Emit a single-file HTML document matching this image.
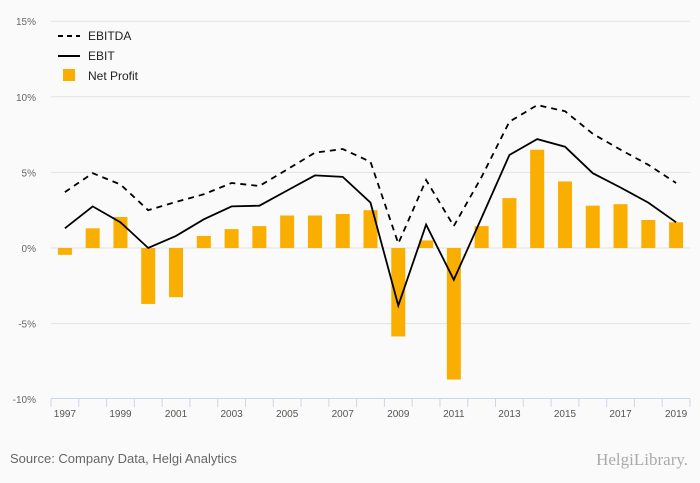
<!DOCTYPE html>
<html><head><meta charset="utf-8">
<style>
html,body{margin:0;padding:0;background:#fafafa;}
body{width:700px;height:483px;overflow:hidden;font-family:"Liberation Sans",sans-serif;}
</style></head>
<body>
<svg id="chart" width="700" height="483" xmlns="http://www.w3.org/2000/svg" style="display:block">
<rect width="700" height="483" fill="#fafafa"/>
<g id="grid"></g><g id="bars"></g><g id="lines"></g><g id="axis"></g>
<g font-size="12" fill="#222">
 <line x1="58" y1="36" x2="80" y2="36" stroke="#000" stroke-width="2" stroke-dasharray="5,4"/>
 <text x="88" y="40">EBITDA</text>
 <line x1="58" y1="56" x2="80" y2="56" stroke="#000" stroke-width="2"/>
 <text x="88" y="60">EBIT</text>
 <rect x="63" y="69" width="12" height="12" fill="#f9ae00"/>
 <text x="88" y="80">Net Profit</text>
</g>
<text x="10" y="463" font-size="13" fill="#666">Source: Company Data, Helgi Analytics</text>
<text x="688" y="465" font-size="17" fill="#aaa" text-anchor="end" font-family="Liberation Serif,serif">HelgiLibrary.</text>
</svg>
<script>
const years=[1997,1998,1999,2000,2001,2002,2003,2004,2005,2006,2007,2008,2009,2010,2011,2012,2013,2014,2015,2016,2017,2018,2019];
const netProfit=[-0.45,1.3,2.05,-3.7,-3.25,0.8,1.25,1.45,2.15,2.15,2.25,2.5,-5.85,0.5,-8.7,1.45,3.3,6.5,4.4,2.8,2.9,1.85,1.7];
const ebit=[1.3,2.75,1.7,0,0.8,1.9,2.75,2.8,3.8,4.8,4.7,3.0,-3.8,1.55,-2.1,2.0,6.15,7.2,6.7,4.95,4.0,3.0,1.7];
const ebitda=[3.7,4.95,4.2,2.5,3.05,3.55,4.3,4.1,5.2,6.3,6.55,5.7,0.3,4.5,1.45,4.7,8.35,9.45,9.05,7.55,6.5,5.5,4.3];
const yTicks=[15,10,5,0,-5,-10];
const NS="http://www.w3.org/2000/svg";
const x0=51,x1=690,step=(x1-x0)/years.length;
const xc=i=>x0+step*(i+0.5);
const y=v=>248-v*15.12;
function mk(tag,attrs,parent,txt){const e=document.createElementNS(NS,tag);for(const k in attrs)e.setAttribute(k,attrs[k]);if(txt!==undefined)e.textContent=txt;parent.appendChild(e);return e;}
const grid=document.getElementById('grid'),bars=document.getElementById('bars'),lines=document.getElementById('lines'),axis=document.getElementById('axis');
yTicks.forEach(t=>{
 if(t!==-10){const l=mk('line',{x1:x0,x2:x1,y1:y(t),y2:y(t),stroke:'#e2e2e2','stroke-width':1},grid);
 
 }
 const tx=mk('text',{x:36,y:y(t)+4,'font-size':10,fill:'#666','text-anchor':'end'},axis,t+'%');
 
 
});
netProfit.forEach((v,i)=>{
 const r=mk('rect',{x:xc(i)-7,y:Math.min(y(v),y(0)),width:14,height:Math.abs(y(v)-y(0)),fill:'#f9ae00'},bars);
 
 
});
const pts=a=>a.map((v,i)=>xc(i).toFixed(1)+','+y(v).toFixed(1)).join(' ');
const l1=mk('polyline',{points:pts(ebitda),fill:'none',stroke:'#000','stroke-width':1.8,'stroke-dasharray':'6,5'},lines);


const l2=mk('polyline',{points:pts(ebit),fill:'none',stroke:'#000','stroke-width':1.8},lines);


const ax=mk('line',{x1:x0,x2:x1,y1:398.5,y2:398.5,stroke:'#ccd6eb'},axis);


for(let i=0;i<=years.length;i++){
 const tk=mk('line',{x1:x0+step*i,x2:x0+step*i,y1:399,y2:407,stroke:'#ccd6eb'},axis);
 
 
}
years.forEach((yr,i)=>{ if(i%2===0){
 const t=mk('text',{x:xc(i),y:417,'font-size':10,fill:'#555','text-anchor':'middle'},axis,yr);
 
 
}});
</script>
</body></html>
